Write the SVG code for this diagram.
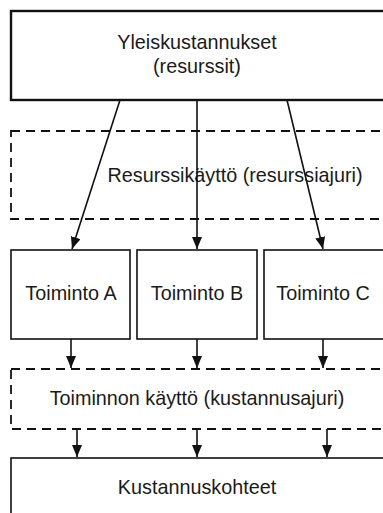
<svg xmlns="http://www.w3.org/2000/svg" width="383" height="513" viewBox="0 0 383 513">
<style>
.box{fill:#fff;stroke:#111;stroke-width:1.6}
.thick{stroke-width:2.4}
.dash{fill:none;stroke:#111;stroke-width:1.8;stroke-dasharray:9 6}
.t{font-family:"Liberation Sans",Arial,sans-serif;font-size:19.8px;fill:#1a1a1a;text-anchor:middle}
.c{stroke:#111;stroke-width:1.6;fill:none;marker-end:url(#ah)}
</style>
<defs>
<marker id="ah" markerUnits="userSpaceOnUse" markerWidth="13" markerHeight="11" refX="12" refY="5" orient="auto">
<path d="M0,0 L12,5 L0,10 z" fill="#111"/>
</marker>
</defs>
<rect width="383" height="513" fill="#fff"/>
<g id="yleiskustannukset">
<rect class="box thick" x="11" y="11" width="380" height="89"/>
<text class="t" x="197" y="49">Yleiskustannukset</text>
<text class="t" x="197" y="73">(resurssit)</text>
</g>
<g id="resurssikaytto">
<rect class="dash" x="11" y="131" width="380" height="88"/>
<text class="t" x="235" y="182">Resurssikäyttö (resurssiajuri)</text>
</g>
<g id="toiminto-a">
<rect class="box" x="11" y="250" width="119" height="89"/>
<text class="t" x="71" y="300">Toiminto A</text>
</g>
<g id="toiminto-b">
<rect class="box" x="137" y="250" width="120" height="89"/>
<text class="t" x="197" y="300">Toiminto B</text>
</g>
<g id="toiminto-c">
<rect class="box" x="264" y="250" width="130" height="89"/>
<text class="t" x="323" y="300">Toiminto C</text>
</g>
<g id="toiminnon-kaytto">
<rect class="dash" x="11" y="369" width="380" height="60"/>
<text class="t" x="197" y="405">Toiminnon käyttö (kustannusajuri)</text>
</g>
<g id="kustannuskohteet">
<rect class="box" x="11" y="458" width="380" height="70"/>
<text class="t" x="197" y="494">Kustannuskohteet</text>
</g>
<g id="connectors">
<line class="c" x1="120" y1="100" x2="72" y2="249"/>
<line class="c" x1="197" y1="100" x2="197" y2="249"/>
<line class="c" x1="287" y1="100" x2="323" y2="249"/>
<line class="c" x1="71" y1="339" x2="71" y2="368"/>
<line class="c" x1="197" y1="339" x2="197" y2="368"/>
<line class="c" x1="323" y1="339" x2="323" y2="368"/>
<line class="c" x1="77" y1="429" x2="77" y2="457"/>
<line class="c" x1="197" y1="429" x2="197" y2="457"/>
<line class="c" x1="327" y1="429" x2="327" y2="457"/>
</g>
</svg>
